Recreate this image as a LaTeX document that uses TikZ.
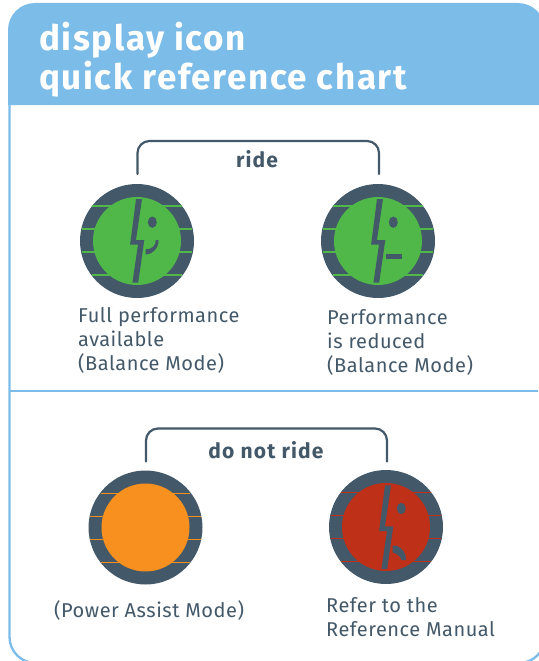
\documentclass[tikz,border=0pt]{standalone}
\usepackage{fontspec}
\setmainfont{Fira Sans}
\definecolor{hdr}{HTML}{7BBCE8}
\definecolor{slate}{HTML}{435868}
\definecolor{grn}{HTML}{50B848}
\definecolor{org}{HTML}{F7901E}
\definecolor{rd}{HTML}{BF3018}
\tikzset{
 x=1pt,y=-1pt,
 panelline/.style={draw=hdr,line width=2.3pt},
 brace/.style={draw=slate,line width=2.2pt,rounded corners=12pt,line cap=round},
 bracelabel/.style={text=slate,font=\fontsize{21}{24}\selectfont\bfseries\addfontfeatures{LetterSpace=5.5},inner sep=0pt,anchor=base},
 caption/.style={text=slate,font=\fontsize{20}{24}\selectfont\addfontfeatures{LetterSpace=2.6},inner sep=0pt,anchor=north west,align=left},
 title/.style={text=white,font=\fontsize{35}{38.5}\selectfont\bfseries\addfontfeatures{LetterSpace=4.6},inner sep=0pt,anchor=north west,align=left},
 face/.style={fill=slate,line width=0pt},
}
\newcommand{\icon}[3]{%
 \begin{scope}[shift={(#1)}]
  \fill[slate] (0,0) circle (57);
  \foreach \yy in {-34.5,-11.5,11.5,34.5}{
    \pgfmathsetmacro{\hw}{sqrt(57*57-\yy*\yy)-0.5}
    \draw[#2,line width=1.5pt] (-\hw,\yy+#3) -- (\hw,\yy+#3);
  }
  \fill[#2] (0,0) circle (44);
 \end{scope}}
\newcommand{\bolt}[1]{%
 \begin{scope}[shift={(#1)}]
  \fill[face] (-1,-41.7) -- (5,-41.7) -- (-1,-0.7) -- (7.3,-0.7) -- (1.2,42) -- (-4.6,42) -- (1,4) -- (-6.9,4) -- cycle;
  \fill[face] (15.3,-18.5) ellipse (4.5 and 5.7);
 \end{scope}}
\begin{document}
\begin{tikzpicture}
\useasboundingbox (0,0) rectangle (538,661);
\fill[white] (0,0) rectangle (538,661);
% panel outline
\draw[panelline,rounded corners=26pt] (9.5,100) -- (9.5,663) -- (545,663) -- (545,600);
\fill[hdr,rounded corners=27pt] (8,105) -- (8,3) -- (545,3) [sharp corners] -- (545,105) -- cycle;
\draw[panelline] (9.5,391) -- (538,391);
\node[title] (ttl) at (39,22) {display icon\\quick reference chart};
% ride
\coordinate (r1) at (137.5,174);
\coordinate (r2) at (379,174);
\draw[brace] (r1) |- (258,141) -| (r2);
\node[bracelabel] (ride) at (257,167) {ride};
\icon{137,241}{grn}{-0.5}
\icon{378,241}{grn}{-0.5}
\bolt{137,240.7}
\bolt{378,240.7}
\fill[slate] (158.5,240) .. controls (159,250) and (150,254.6) .. (145.7,254.6) -- (145.7,249.2) .. controls (153,249.2) and (155.8,245) .. (155.8,240) -- cycle;
\fill[slate] (386,254) rectangle (402,259.4);
\node[caption] (c1) at (78,307) {Full performance\\available\\(Balance Mode)};
\node[caption] (c2) at (327,309) {Performance\\is reduced\\(Balance Mode)};
% do not ride
\coordinate (d1) at (146,461.5);
\coordinate (d2) at (387,461.5);
\draw[brace] (d1) |- (266,428.5) -| (d2);
\node[bracelabel] (dnr) at (266,458) {do not ride};
\icon{145.5,527.5}{org}{0.5}
\icon{386,527}{rd}{0}
\bolt{386,527}
\fill[slate] (392.7,545.5) .. controls (400.5,545) and (406,552) .. (406,560) -- (401.5,560) .. controls (400.5,556.5) and (397,553.5) .. (392.7,552.5) -- cycle;
\node[caption] (c3) at (54,600) {(Power Assist Mode)};
\node[caption] (c4) at (326,597) {Refer to the\\Reference Manual};
\end{tikzpicture}
\end{document}
